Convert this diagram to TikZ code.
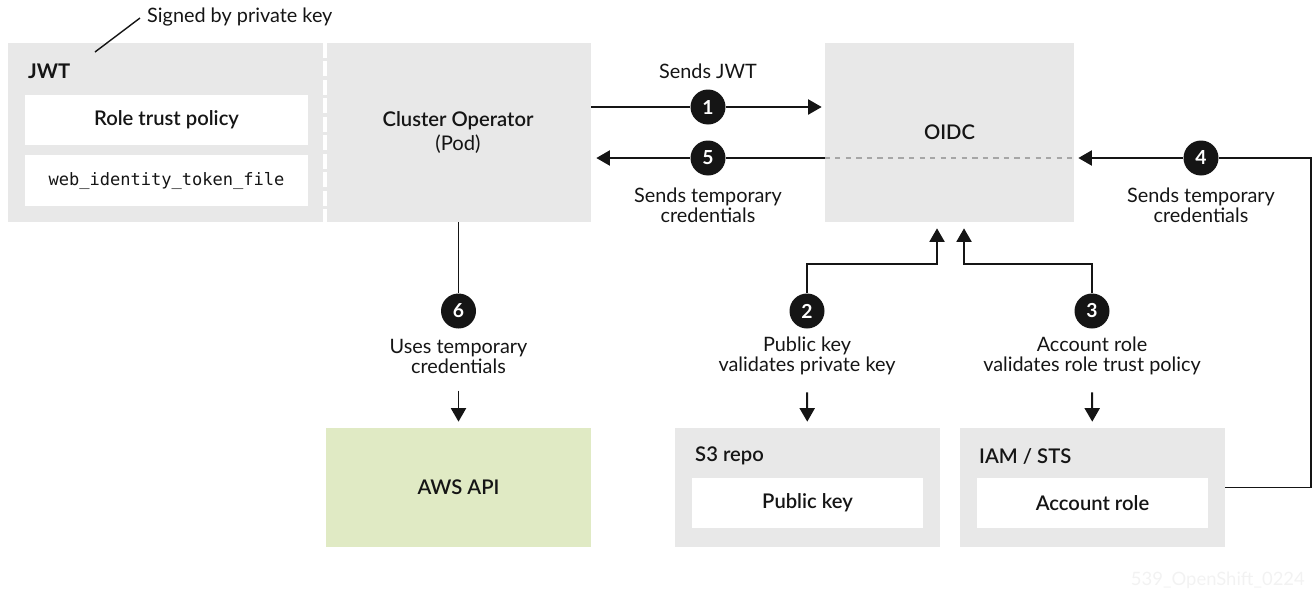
\documentclass[tikz,border=0pt]{standalone}
\usepackage{fontspec}
\setmainfont{Lato}[BoldFont={Lato Semibold}]
\newfontfamily\strongfont{Lato Bold}
\setmonofont{DejaVu Sans Mono}
\usetikzlibrary{arrows.meta,positioning,calc}

\definecolor{boxgray}{HTML}{E8E8E8}
\definecolor{apigreen}{HTML}{E0EAC4}
\definecolor{ink}{HTML}{151515}

\tikzset{
  grp/.style={fill=boxgray, inner sep=0pt, minimum height=3.58cm},
  lowgrp/.style={fill=boxgray, inner sep=0pt, minimum width=5.3cm, minimum height=2.38cm},
  card/.style={fill=white, inner sep=0pt, minimum height=1cm},
  head/.style={font=\bfseries\fontsize{11.5}{13}\selectfont},
  stepdot/.style={circle, fill=ink, text=white, font=\strongfont\fontsize{11}{12}\selectfont, inner sep=0pt, minimum size=0.7cm},
  note/.style={align=center, inner sep=0pt, font=\fontsize{11.3}{11.4}\selectfont},
  wire/.style={draw=ink, line width=1.1pt},
  flow/.style={wire, -{Triangle[length=0.27cm, width=0.3cm]}}
}

\begin{document}
\begin{tikzpicture}[x=0.02cm, y=-0.02cm, text=ink, font=\fontsize{11.3}{12}\selectfont]

\useasboundingbox (0,0) rectangle (1314,589);

% upper row
\node[grp, minimum width=6.34cm] (jwt) at (166.5,132.5) {};
\node[grp, minimum width=5.32cm, align=center, font=\fontsize{11.5}{13.4}\selectfont] (op) at (458,132.5)
  {\bfseries Cluster Operator\\(Pod)};
\node[grp, minimum width=4.98cm, head] (oidc) at (949.5,132.5) {OIDC};
\draw[white, line width=2.4pt, dash pattern=on 0.3cm off 0.07cm] (jwt.north east) -- (jwt.south east);

\node[anchor=west, font=\strongfont\fontsize{11.5}{13}\selectfont] (jwtlbl) at (22,71) {JWT};
\node[card, minimum width=5.66cm, head] (role) at (166.5,120) {Role trust policy};
\node[card, minimum width=5.66cm, minimum height=1.02cm, font=\ttfamily\fontsize{9.7}{11}\selectfont] (token) at (166.5,180.5) {web\_identity\_token\_file};

\node[anchor=west] (sig) at (141,17) {Signed by private key};
\coordinate (lead) at (95,52);
\draw[ink, line width=0.8pt] (lead) -- ($(sig.west)+(-1,1)$);

% lower row
\node[lowgrp, fill=apigreen, head] (aws) at (458.5,487.5) {AWS API};
\node[lowgrp] (s3) at (807.5,487.5) {};
\node[lowgrp] (iam) at (1092.5,487.5) {};
\node[anchor=west, head] (s3lbl) at (689,456) {S3 repo};
\node[anchor=west, head] (iamlbl) at (973,456) {IAM / STS};
\node[card, minimum width=4.62cm, head] (pub) at (807.5,503) {Public key};
\node[card, minimum width=4.62cm, head] (acct) at (1092.5,503) {Account role};

% numbered steps
\node[stepdot] (n1) at (708,107) {1};
\node[stepdot] (n5) at (708,158) {5};
\node[stepdot] (n4) at (1201,158) {4};
\node[stepdot] (n2) at (807,311) {2};
\node[stepdot] (n3) at (1092,311) {3};
\node[stepdot] (n6) at (458.5,311) {6};

\node[note] (l1) at (708,71) {Sends JWT};
\node[note] (l5) at (708,205) {Sends temporary\\credentials};
\node[note] (l4) at (1201,205) {Sends temporary\\credentials};
\node[note] (l2) at (807,356) {Public key\\validates private key};
\node[note] (l3) at (1092,356) {Account role\\validates role trust policy};
\node[note] (l6) at (458.5,356) {Uses temporary\\credentials};

% connectors
\draw[wire] (op.east |- n1) -- (n1);
\draw[flow, shorten >=0.06cm] (n1) -- (oidc.west |- n1);

\draw[dashed, gray!70, line width=0.8pt] (oidc.west |- n5) -- (oidc.east |- n5);
\draw[wire] (oidc.west |- n5) -- (n5);
\draw[flow, shorten >=0.1cm] (n5) -- (op.east |- n5);

\coordinate (c4) at (1311,158);
\draw[wire] (iam.east) -| (c4) -- (n4);
\draw[flow, shorten >=0.08cm] (n4) -- (oidc.east |- n4);

\coordinate (j2) at (937,264);
\coordinate (j3) at (964,264);
\draw[flow, shorten >=0.12cm] (n2) |- (j2) -- (j2 |- oidc.south);
\draw[flow, shorten >=0.12cm] (n3) |- (j3) -- (j3 |- oidc.south);

\draw[wire] (n6 |- op.south) -- (n6);
\draw[flow, shorten <=0.34cm, shorten >=0.12cm] (l6) -- (aws);
\draw[flow, shorten <=0.34cm, shorten >=0.12cm] (l2) -- (s3);
\draw[flow, shorten <=0.34cm, shorten >=0.12cm] (l3) -- (iam);

\node[anchor=east, text=black!5, font=\fontsize{10.5}{12}\selectfont] (mark) at (1311,580) {539\_OpenShift\_0224};

\end{tikzpicture}
\end{document}
